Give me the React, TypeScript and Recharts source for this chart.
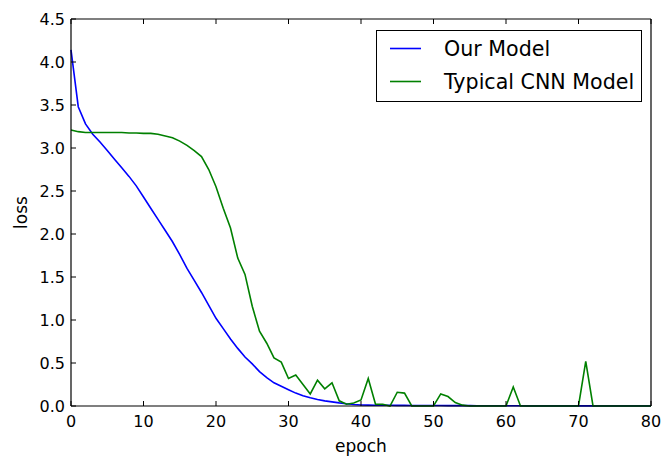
import React from 'react';
import { LineChart, Line, XAxis, YAxis, Legend } from 'recharts';

const FONT = '"DejaVu Sans", sans-serif';

const epochs = [
  0, 1, 2, 3, 4, 5, 6, 7, 8, 9, 10, 11, 12, 13, 14, 15, 16, 17, 18, 19, 20,
  21, 22, 23, 24, 25, 26, 27, 28, 29, 30, 31, 32, 33, 34, 35, 36, 37, 38, 39, 40,
  41, 42, 43, 44, 45, 46, 47, 48, 49, 50, 51, 52, 53, 54, 55, 56, 57, 58, 59, 60,
  61, 62, 63, 64, 65, 66, 67, 68, 69, 70, 71, 72, 73, 74, 75, 76, 77, 78, 79, 80,
];

const ourModel = [
  4.14, 3.48, 3.28, 3.16, 3.07, 2.97, 2.87, 2.77, 2.67, 2.56, 2.43,
  2.3, 2.17, 2.04, 1.91, 1.76, 1.6, 1.46, 1.32, 1.17, 1.02,
  0.9, 0.78, 0.67, 0.57, 0.49, 0.4, 0.33, 0.27, 0.23, 0.19,
  0.15, 0.12, 0.095, 0.075, 0.06, 0.048, 0.036, 0.026, 0.018, 0.012,
  0.01, 0.009, 0.008, 0.008, 0.007, 0.007, 0.006, 0.006, 0.005, 0.005,
  0.005, 0.004, 0.004, 0.004, 0.004, 0.003, 0.003, 0.003, 0.003, 0.003,
  0.003, 0.003, 0.002, 0.002, 0.002, 0.002, 0.002, 0.002, 0.002, 0.002,
  0.002, 0.002, 0.002, 0.002, 0.002, 0.002, 0.002, 0.002, 0.002, 0.002,
];

const typicalCnn = [
  3.21, 3.19, 3.18, 3.18, 3.18, 3.18, 3.18, 3.18, 3.175, 3.175, 3.17,
  3.17, 3.16, 3.14, 3.12, 3.08, 3.03, 2.97, 2.9, 2.75, 2.55,
  2.3, 2.07, 1.72, 1.53, 1.16, 0.87, 0.73, 0.56, 0.51, 0.32,
  0.36, 0.25, 0.14, 0.3, 0.2, 0.27, 0.06, 0.02, 0.035, 0.07,
  0.32, 0.02, 0.02, 0.0, 0.16, 0.15, 0.0, 0.0, 0.0, 0.0,
  0.14, 0.11, 0.04, 0.01, 0.0, 0.0, 0.0, 0.0, 0.0, 0.0,
  0.22, 0.0, 0.0, 0.0, 0.0, 0.0, 0.0, 0.0, 0.0, 0.0,
  0.52, 0.0, 0.0, 0.0, 0.0, 0.0, 0.0, 0.0, 0.0, 0.0,
];

const seriesNames = ['Our Model', 'Typical CNN Model'];
const seriesColors = ['#0000ff', '#008000'];
const xTicks = [0, 10, 20, 30, 40, 50, 60, 70, 80];
const yTicks = [0, 0.5, 1, 1.5, 2, 2.5, 3, 3.5, 4, 4.5];

const data = epochs.map((e, i) => ({ epoch: e, ours: ourModel[i], cnn: typicalCnn[i] }));

const TICK_LEN = 5;

const BottomTick = (props: any) => {
  const { x, y, payload } = props;
  return (
    <g>
      <line x1={x} x2={x} y1={y} y2={y - TICK_LEN} stroke="#000" strokeWidth={1} />
      <text x={x} y={y + 21} textAnchor="middle" fontSize={16} fontFamily={FONT} fill="#000">
        {payload.value}
      </text>
    </g>
  );
};

const TopTick = (props: any) => {
  const { x, y } = props;
  return <line x1={x} x2={x} y1={y} y2={y + TICK_LEN} stroke="#000" strokeWidth={1} />;
};

const LeftTick = (props: any) => {
  const { x, y, payload } = props;
  return (
    <g>
      <line x1={x} x2={x + TICK_LEN} y1={y} y2={y} stroke="#000" strokeWidth={1} />
      <text x={x - 6} y={y} dy="0.36em" textAnchor="end" fontSize={16} fontFamily={FONT} fill="#000">
        {Number(payload.value).toFixed(1)}
      </text>
    </g>
  );
};

const RightTick = (props: any) => {
  const { x, y } = props;
  return <line x1={x} x2={x - TICK_LEN} y1={y} y2={y} stroke="#000" strokeWidth={1} />;
};

const LegendBox = (props: any) => {
  const payload = props.payload || [];
  return (
    <svg width={266} height={72} style={{ display: 'block' }}>
      <rect x={0.5} y={0.5} width={265} height={71} fill="#fff" stroke="#000" strokeWidth={1} />
      {payload.map((p: any, i: number) => (
        <g key={i}>
          <line x1={14} x2={45} y1={18.5 + i * 33} y2={18.5 + i * 33} stroke={p.color} strokeWidth={1.6} />
          <text x={68} y={25.9 + i * 33} fontSize={20.6} fontFamily={FONT} fill="#000">
            {p.value}
          </text>
        </g>
      ))}
    </svg>
  );
};

export default function App() {
  return (
    <div style={{ position: 'absolute', left: 0, top: 0, width: 664, height: 456, background: '#fff' }}>
      <LineChart width={664} height={456} data={data} margin={{ top: 0, right: 0, bottom: 0, left: 0 }}>
        <XAxis
          xAxisId="b"
          dataKey="epoch"
          type="number"
          domain={[0, 80]}
          ticks={xTicks}
          interval={0}
          height={50}
          tickSize={0}
          tickMargin={0}
          tickLine={false}
          tick={<BottomTick />}
          axisLine={{ stroke: '#000', strokeWidth: 1.2 }}
          label={{ value: 'epoch', position: 'insideBottom', offset: 4, fontSize: 17, fill: '#000', fontFamily: FONT }}
        />
        <XAxis
          xAxisId="t"
          orientation="top"
          dataKey="epoch"
          type="number"
          domain={[0, 80]}
          ticks={xTicks}
          interval={0}
          height={19}
          tickSize={0}
          tickMargin={0}
          tickLine={false}
          tick={<TopTick />}
          axisLine={{ stroke: '#000', strokeWidth: 1.2 }}
        />
        <YAxis
          yAxisId="l"
          type="number"
          domain={[0, 4.5]}
          ticks={yTicks}
          interval={0}
          width={71}
          tickSize={0}
          tickMargin={0}
          tickLine={false}
          tick={<LeftTick />}
          axisLine={{ stroke: '#000', strokeWidth: 1.2 }}
          label={{ value: 'loss', angle: -90, position: 'insideLeft', offset: 21, fontSize: 17, fill: '#000', fontFamily: FONT, style: { textAnchor: 'middle' } }}
        />
        <YAxis
          yAxisId="r"
          orientation="right"
          type="number"
          domain={[0, 4.5]}
          ticks={yTicks}
          interval={0}
          width={13}
          tickSize={0}
          tickMargin={0}
          tickLine={false}
          tick={<RightTick />}
          axisLine={{ stroke: '#000', strokeWidth: 1.2 }}
        />
        <Legend
          layout="vertical"
          align="center"
          verticalAlign="middle"
          content={<LegendBox />}
          wrapperStyle={{ left: 376, top: 30, width: 266, height: 72 }}
        />
        <Line
          xAxisId="b"
          yAxisId="l"
          type="linear"
          dataKey="ours"
          name={seriesNames[0]}
          stroke={seriesColors[0]}
          strokeWidth={1.6}
          dot={false}
          activeDot={false}
          isAnimationActive={false}
        />
        <Line
          xAxisId="b"
          yAxisId="l"
          type="linear"
          dataKey="cnn"
          name={seriesNames[1]}
          stroke={seriesColors[1]}
          strokeWidth={1.6}
          dot={false}
          activeDot={false}
          isAnimationActive={false}
        />
      </LineChart>
    </div>
  );
}
